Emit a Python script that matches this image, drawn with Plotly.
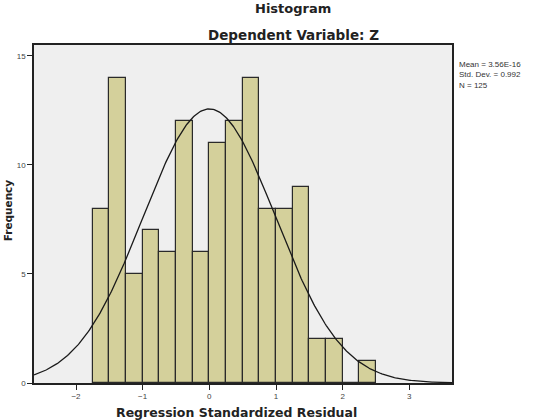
import numpy as np
import plotly.graph_objects as go

# Histogram data (bin width 0.25)
bin_left = [-1.75, -1.5, -1.25, -1.0, -0.75, -0.5, -0.25, 0.0, 0.25, 0.5,
            0.75, 1.0, 1.25, 1.5, 1.75, 2.0, 2.25]
counts = [8, 14, 5, 7, 6, 12, 6, 11, 12, 14, 8, 8, 9, 2, 2, 0, 1]
bin_width = 0.25
mean = 3.56e-16
std = 0.992
n = 125
x_ticks = [-2, -1, 0, 1, 2, 3]
y_ticks = [0, 5, 10, 15]
stats_lines = ["Mean = 3.56E-16", "Std. Dev. = 0.992", "N = 125"]

x_range = [-2.63, 3.64]
y_range = [0, 15.5]

centers = [b + bin_width / 2 for b in bin_left]

fig = go.Figure()
fig.add_trace(go.Bar(
    x=centers, y=counts, width=bin_width,
    marker=dict(color="#D4D09B", line=dict(color="#2a2a2a", width=1.2)),
    showlegend=False,
))

xs = np.linspace(x_range[0], x_range[1], 400)
ys = n * bin_width / (std * np.sqrt(2 * np.pi)) * np.exp(-0.5 * ((xs - mean) / std) ** 2)
fig.add_trace(go.Scatter(x=xs, y=ys, mode="lines",
                         line=dict(color="#1a1a1a", width=1.3), showlegend=False))

font_family = "Liberation Sans, Arial, sans-serif"
title_font = "DejaVu Sans, Liberation Sans, sans-serif"

annotations = [
    dict(text="<b>Histogram</b>", xref="paper", yref="paper", x=0.62, y=(383 - 8.5) / 338,
         xanchor="center", yanchor="middle", showarrow=False, borderpad=0,
         font=dict(size=13, color="#222", family=title_font)),
    dict(text="<b>Dependent Variable: Z</b>", xref="paper", yref="paper", x=0.62, y=1.03,
         xanchor="center", yanchor="middle", showarrow=False,
         font=dict(size=13.5, color="#222", family=title_font)),
    dict(text="<b>Regression Standardized Residual</b>", xref="paper", yref="paper",
         x=0.485, y=-0.088, xanchor="center", yanchor="middle", showarrow=False,
         font=dict(size=12.5, color="#222", family=title_font)),
    dict(text="<b>Frequency</b>", xref="paper", yref="paper", x=-0.063, y=0.51,
         xanchor="center", yanchor="middle", showarrow=False, textangle=-90,
         font=dict(size=10.5, color="#222", family=title_font)),
    dict(text="<br>".join(stats_lines), xref="paper", yref="paper",
         x=1.015, y=(383 - 59) / 338, xanchor="left", yanchor="top", align="left",
         showarrow=False, borderpad=0,
         font=dict(size=8, color="#333", family=font_family)),
]

fig.update_layout(
    width=556, height=420,
    margin=dict(l=34, r=104, t=45, b=37, pad=0),
    paper_bgcolor="white",
    plot_bgcolor="#EFEFEF",
    font=dict(family=font_family, size=8, color="#333"),
    bargap=0,
    xaxis=dict(range=x_range, tickvals=x_ticks, ticks="outside", ticklen=5,
               tickcolor="#222", showgrid=False, zeroline=False,
               showline=True, linecolor="#222", linewidth=1.5, mirror=True,
               tickfont=dict(size=8, color="#444")),
    yaxis=dict(range=y_range, tickvals=y_ticks, ticks="outside", ticklen=5,
               tickcolor="#222", showgrid=False, zeroline=False,
               showline=True, linecolor="#222", linewidth=1.5, mirror=True,
               tickfont=dict(size=8, color="#444")),
    annotations=annotations,
)

fig.write_html("out.html")
